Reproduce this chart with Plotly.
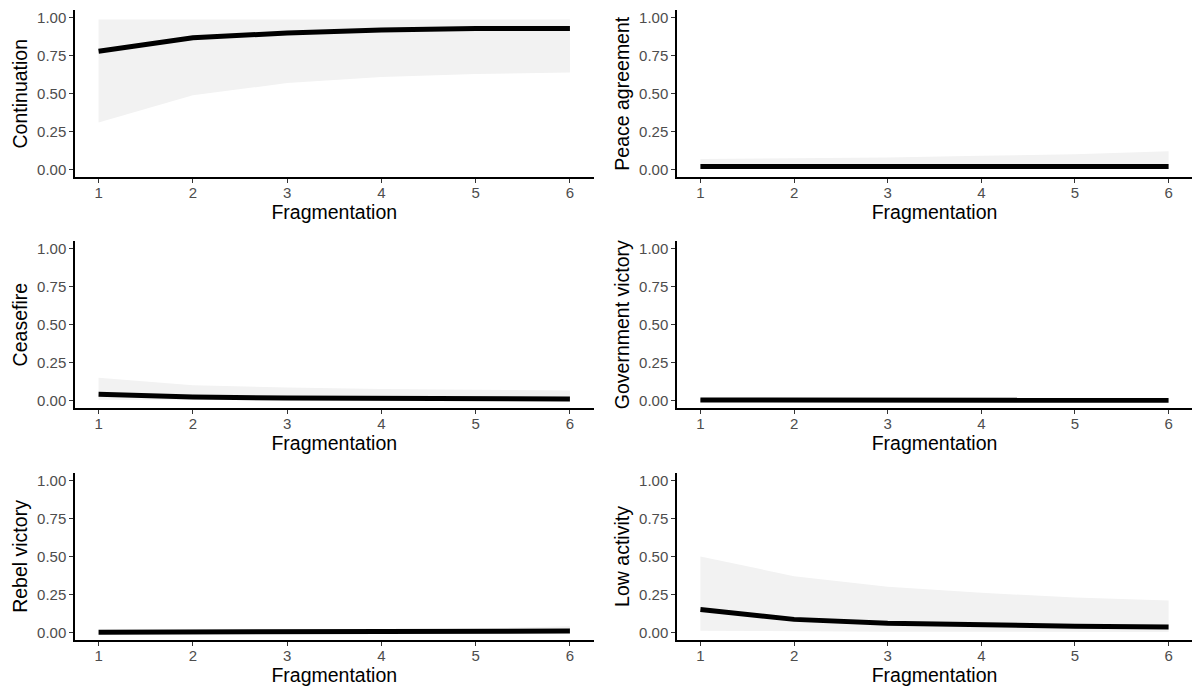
import plotly.graph_objects as go

W, H = 1192, 688
fragmentation = [1, 2, 3, 4, 5, 6]

outcomes = ["Continuation", "Peace agreement", "Ceasefire",
            "Government victory", "Rebel victory", "Low activity"]

continuation_fit = [0.78, 0.87, 0.90, 0.92, 0.93, 0.93]
continuation_lo = [0.31, 0.49, 0.57, 0.61, 0.63, 0.64]
continuation_hi = [0.99, 0.99, 0.99, 0.99, 0.99, 0.99]

peace_fit = [0.02, 0.02, 0.02, 0.02, 0.02, 0.02]
peace_lo = [0.004, 0.004, 0.004, 0.004, 0.004, 0.004]
peace_hi = [0.07, 0.075, 0.08, 0.09, 0.10, 0.12]

ceasefire_fit = [0.04, 0.022, 0.016, 0.012, 0.01, 0.009]
ceasefire_lo = [0.005, 0.003, 0.002, 0.002, 0.001, 0.001]
ceasefire_hi = [0.15, 0.10, 0.085, 0.075, 0.07, 0.065]

govvic_fit = [0.003, 0.002, 0.002, 0.001, 0.001, 0.001]
govvic_lo = [0.0, 0.0, 0.0, 0.0, 0.0, 0.0]
govvic_hi = [0.01, 0.008, 0.007, 0.006, 0.006, 0.006]

rebvic_fit = [0.0, 0.0, 0.001, 0.002, 0.005, 0.008]
rebvic_lo = [0.0, 0.0, 0.0, 0.0, 0.0, 0.0]
rebvic_hi = [0.004, 0.006, 0.01, 0.015, 0.025, 0.04]

lowact_fit = [0.15, 0.085, 0.06, 0.048, 0.04, 0.035]
lowact_lo = [0.01, 0.005, 0.004, 0.003, 0.003, 0.002]
lowact_hi = [0.50, 0.37, 0.30, 0.26, 0.23, 0.21]

series = [
    (continuation_fit, continuation_lo, continuation_hi),
    (peace_fit, peace_lo, peace_hi),
    (ceasefire_fit, ceasefire_lo, ceasefire_hi),
    (govvic_fit, govvic_lo, govvic_hi),
    (rebvic_fit, rebvic_lo, rebvic_hi),
    (lowact_fit, lowact_lo, lowact_hi),
]

y_ticks = [0, 0.25, 0.5, 0.75, 1.0]
y_ticklabels = ["0.00", "0.25", "0.50", "0.75", "1.00"]
x_title = "Fragmentation"

# panel pixel boxes (left, right, top, bottom)
cols = [(75, 593.5), (677, 1192)]
rows = [(9.4, 176.6), (241, 408.2), (473.5, 640.7)]

fig = go.Figure()
font_family = "Liberation Sans, Arial, sans-serif"

for i, (name, (fit, lo, hi)) in enumerate(zip(outcomes, series)):
    r, c = divmod(i, 2)
    n = i + 1
    xa = "x" if n == 1 else f"x{n}"
    ya = "y" if n == 1 else f"y{n}"
    fig.add_trace(go.Scatter(x=fragmentation, y=lo, mode="lines",
                             line=dict(width=0, color="rgba(0,0,0,0)"),
                             xaxis=xa, yaxis=ya, showlegend=False, hoverinfo="skip"))
    fig.add_trace(go.Scatter(x=fragmentation, y=hi, mode="lines", fill="tonexty",
                             fillcolor="rgb(242,242,242)",
                             line=dict(width=0, color="rgba(0,0,0,0)"),
                             xaxis=xa, yaxis=ya, showlegend=False, hoverinfo="skip"))
    fig.add_trace(go.Scatter(x=fragmentation, y=fit, mode="lines",
                             line=dict(width=5, color="black"),
                             xaxis=xa, yaxis=ya, showlegend=False))
    x0, x1 = cols[c]
    t, b = rows[r]
    xkey = "xaxis" if n == 1 else f"xaxis{n}"
    ykey = "yaxis" if n == 1 else f"yaxis{n}"
    fig.layout[xkey] = dict(
        domain=[x0 / W, x1 / W], anchor=ya, range=[0.75, 6.25],
        tickvals=fragmentation, ticktext=[str(v) for v in fragmentation],
        showgrid=False, zeroline=False, showline=True, linecolor="black", linewidth=1.5,
        ticks="outside", ticklen=4, tickcolor="#333333", tickwidth=1,
        ticklabelstandoff=-3,
        tickfont=dict(size=15, color="#4d4d4d", family=font_family),
        title=dict(text=x_title, font=dict(size=19.5, color="black", family=font_family), standoff=1),
        fixedrange=True,
    )
    fig.layout[ykey] = dict(
        domain=[1 - b / H, 1 - t / H], anchor=xa, range=[-0.05, 1.05],
        tickvals=y_ticks, ticktext=y_ticklabels,
        showgrid=False, zeroline=False, showline=True, linecolor="black", linewidth=1.5,
        ticks="outside", ticklen=4, tickcolor="#333333", tickwidth=1,
        tickfont=dict(size=15, color="#4d4d4d", family=font_family),
        title=dict(text=name, font=dict(size=19.5, color="black", family=font_family), standoff=4),
        fixedrange=True,
    )

fig.update_layout(
    width=W, height=H, margin=dict(l=0, r=0, t=0, b=0),
    plot_bgcolor="white", paper_bgcolor="white",
    font=dict(family=font_family),
)

fig.write_html("out.html")
